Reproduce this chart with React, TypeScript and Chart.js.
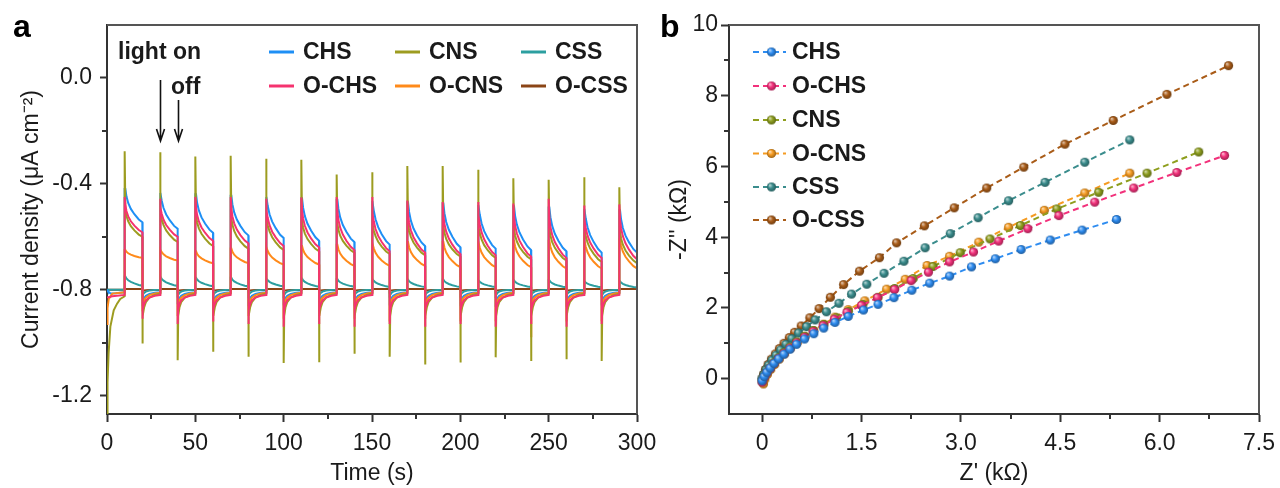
import React, { useEffect, useRef } from "react";
import { Chart, registerables } from "chart.js";

Chart.register(...registerables);

const FONT = '"Liberation Sans", Arial, Helvetica, sans-serif';
const INK = "#1a1a1a";
const AXIS = "#333333";
const FRAME = "#555555";

// ================= Panel a : photocurrent transients =================
const TIME_TICKS = [0, 50, 100, 150, 200, 250, 300];
const TIME_MINOR = [25, 75, 125, 175, 225, 275];
const CURRENT_TICKS = [-1.2, -0.8, -0.4, 0.0];
const CURRENT_MINOR = [-1.0, -0.6, -0.2];
const LIGHT_ON = [10, 30, 50, 70, 90, 110, 130, 150, 170, 190, 210, 230, 250, 270, 290];
const LIGHT_OFF = [20, 40, 60, 80, 100, 120, 140, 160, 180, 200, 220, 240, 260, 280, 300];
// measured decay shape after switching (seconds after switch, remaining fraction)
const ON_DT = [0.4, 1, 2, 3.5, 5.5, 8, 10];
const ON_FRAC = [1, 0.78, 0.58, 0.4, 0.24, 0.08, 0];
const OFF_DT = [0.3, 1, 2, 4, 7, 10];
const OFF_FRAC = [1, 0.62, 0.38, 0.18, 0.06, 0];
const ARROW_ON_T = 30;
const ARROW_OFF_T = 40;

// CHS
const CHS_START = [[0, -0.8], [0.5, -0.806], [2, -0.815], [5, -0.814], [10, -0.81]];
const CHS_TOP = [-0.42, -0.435, -0.44, -0.445, -0.45, -0.455, -0.46, -0.465, -0.47, -0.475, -0.48, -0.485, -0.49, -0.495, -0.5];
const CHS_END = [-0.545, -0.57, -0.585, -0.595, -0.605, -0.615, -0.62, -0.63, -0.635, -0.64, -0.645, -0.65, -0.655, -0.66, -0.66];
const CHS_DIP = [-0.85, -0.855, -0.86, -0.855, -0.86, -0.86, -0.855, -0.86, -0.86, -0.86, -0.865, -0.86, -0.865, -0.86, -0.86];
const CHS_REC = -0.845;
const CHS_BASE = -0.81;
// O-CHS
const OCHS_START = [[0, -0.83], [3, -0.825], [10, -0.82]];
const OCHS_SPIKE = [-0.45, -0.457, -0.45, -0.45, -0.457, -0.452, -0.45, -0.45, -0.463, -0.469, -0.469, -0.475, -0.457, -0.482, -0.478];
const OCHS_TOP = [-0.48, -0.49, -0.49, -0.495, -0.5, -0.5, -0.505, -0.51, -0.515, -0.52, -0.52, -0.525, -0.53, -0.535, -0.535];
const OCHS_END = [-0.583, -0.6, -0.615, -0.625, -0.635, -0.64, -0.65, -0.655, -0.66, -0.665, -0.67, -0.675, -0.68, -0.68, -0.685];
const OCHS_DIP = [-0.91, -0.93, -0.92, -0.93, -0.94, -0.93, -0.94, -0.93, -0.94, -0.93, -0.94, -0.93, -0.94, -0.93, -0.95];
const OCHS_REC = -0.875;
const OCHS_BASE = -0.82;
// CNS
const CNS_START = [[0, -1.27], [0.3, -1.15], [0.9, -1.04], [1.9, -0.94], [3.8, -0.878], [5.7, -0.853], [7.5, -0.835], [10, -0.825]];
const CNS_SPIKE = [-0.277, -0.281, -0.297, -0.294, -0.305, -0.309, -0.365, -0.356, -0.333, -0.333, -0.347, -0.379, -0.385, -0.375, -0.413];
const CNS_TOP = [-0.5, -0.51, -0.52, -0.53, -0.53, -0.54, -0.55, -0.55, -0.55, -0.56, -0.56, -0.57, -0.57, -0.57, -0.58];
const CNS_END = [-0.6, -0.62, -0.635, -0.645, -0.65, -0.655, -0.66, -0.665, -0.67, -0.675, -0.68, -0.685, -0.69, -0.695, -0.7];
const CNS_DIP = [-1.004, -1.067, -1.035, -1.054, -1.077, -1.074, -1.042, -1.054, -1.083, -1.075, -1.056, -1.07, -1.063, -1.07, -1.0];
const CNS_REC = -0.9;
const CNS_BASE = -0.815;
// O-CNS
const OCNS_START = [[0, -0.93], [0.3, -0.87], [1, -0.835], [3, -0.815], [10, -0.81]];
const OCNS_TOP = [-0.65, -0.65, -0.655, -0.645, -0.64, -0.635, -0.63, -0.625, -0.62, -0.62, -0.62, -0.615, -0.615, -0.615, -0.61];
const OCNS_END = [-0.68, -0.69, -0.7, -0.7, -0.705, -0.705, -0.71, -0.71, -0.71, -0.715, -0.715, -0.715, -0.72, -0.72, -0.72];
const OCNS_DIP = [-0.88, -0.9, -0.9, -0.9, -0.91, -0.9, -0.91, -0.92, -0.91, -0.92, -0.92, -0.98, -0.92, -0.92, -0.95];
const OCNS_REC = -0.86;
const OCNS_BASE = -0.812;
// CSS
const CSS_START = [[0, -0.8], [10, -0.8]];
const CSS_TOP = [-0.75, -0.752, -0.755, -0.755, -0.758, -0.758, -0.76, -0.76, -0.762, -0.762, -0.765, -0.765, -0.765, -0.768, -0.768];
const CSS_END = [-0.785, -0.786, -0.787, -0.788, -0.788, -0.789, -0.789, -0.79, -0.79, -0.79, -0.79, -0.79, -0.791, -0.791, -0.792];
const CSS_DIP = [-0.83, -0.83, -0.832, -0.83, -0.832, -0.83, -0.832, -0.83, -0.832, -0.83, -0.832, -0.83, -0.832, -0.83, -0.83];
const CSS_REC = -0.82;
const CSS_BASE = -0.8;
// O-CSS
const OCSS_START = [[0, -0.8], [10, -0.8]];
const OCSS_TOP = [-0.797, -0.797, -0.797, -0.797, -0.797, -0.797, -0.797, -0.797, -0.797, -0.797, -0.797, -0.797, -0.797, -0.797, -0.797];
const OCSS_END = [-0.798, -0.798, -0.798, -0.798, -0.798, -0.798, -0.798, -0.798, -0.798, -0.798, -0.798, -0.798, -0.798, -0.798, -0.798];
const OCSS_DIP = [-0.806, -0.806, -0.806, -0.806, -0.806, -0.806, -0.806, -0.806, -0.806, -0.806, -0.806, -0.806, -0.806, -0.806, -0.806];
const OCSS_REC = -0.804;
const OCSS_BASE = -0.801;

const COLOR_A = {
  CHS: "#1e8ff5",
  OCHS: "#f5336f",
  CNS: "#9d9c20",
  OCNS: "#ff8a1a",
  CSS: "#2c9fa0",
  OCSS: "#8b4516",
};

// ================= Panel b : Nyquist plots =================
const ZRE_TICKS = [0, 1.5, 3.0, 4.5, 6.0, 7.5];
const ZRE_MINOR = [0.75, 2.25, 3.75, 5.25, 6.75];
const ZIM_TICKS = [0, 2, 4, 6, 8, 10];
const ZIM_MINOR = [1, 3, 5, 7, 9];

const CHS_ZRE = [0.0, 0.03, 0.07, 0.12, 0.18, 0.25, 0.33, 0.42, 0.52, 0.64, 0.78, 0.93, 1.1, 1.3, 1.53, 1.75, 1.99, 2.26, 2.53, 2.83, 3.16, 3.52, 3.91, 4.35, 4.83, 5.35];
const CHS_ZIM = [-0.06, 0.06, 0.18, 0.3, 0.43, 0.56, 0.69, 0.83, 0.97, 1.12, 1.27, 1.43, 1.59, 1.76, 1.94, 2.1, 2.29, 2.5, 2.7, 2.9, 3.16, 3.39, 3.65, 3.92, 4.2, 4.5];
const OCHS_ZRE = [0.0, 0.03, 0.07, 0.12, 0.18, 0.25, 0.33, 0.42, 0.52, 0.64, 0.77, 0.92, 1.09, 1.28, 1.5, 1.74, 2.0, 2.25, 2.51, 2.83, 3.19, 3.57, 4.01, 4.48, 5.02, 5.61, 6.26, 6.98];
const OCHS_ZIM = [-0.1, 0.03, 0.16, 0.29, 0.43, 0.57, 0.71, 0.86, 1.01, 1.17, 1.33, 1.5, 1.68, 1.87, 2.07, 2.29, 2.52, 2.77, 3.01, 3.3, 3.58, 3.89, 4.24, 4.61, 4.99, 5.39, 5.83, 6.31];
const CNS_ZRE = [0.0, 0.03, 0.07, 0.12, 0.18, 0.25, 0.33, 0.42, 0.52, 0.64, 0.77, 0.93, 1.12, 1.3, 1.52, 1.75, 2.0, 2.28, 2.58, 2.99, 3.44, 3.9, 4.45, 5.08, 5.81, 6.59];
const CNS_ZIM = [-0.08, 0.05, 0.18, 0.31, 0.45, 0.59, 0.74, 0.89, 1.04, 1.2, 1.36, 1.53, 1.72, 1.9, 2.1, 2.3, 2.55, 2.83, 3.17, 3.56, 3.95, 4.33, 4.8, 5.27, 5.81, 6.41];
const OCNS_ZRE = [0.02, 0.04, 0.08, 0.13, 0.19, 0.26, 0.34, 0.43, 0.53, 0.65, 0.78, 0.93, 1.1, 1.3, 1.55, 1.88, 2.16, 2.49, 2.83, 3.27, 3.72, 4.26, 4.87, 5.55];
const OCNS_ZIM = [-0.15, -0.02, 0.12, 0.26, 0.4, 0.55, 0.7, 0.86, 1.02, 1.19, 1.36, 1.54, 1.74, 1.95, 2.2, 2.53, 2.81, 3.2, 3.46, 3.86, 4.28, 4.76, 5.25, 5.81];
const CSS_ZRE = [0.0, 0.03, 0.06, 0.1, 0.15, 0.21, 0.28, 0.36, 0.45, 0.55, 0.67, 0.8, 0.97, 1.16, 1.35, 1.58, 1.84, 2.14, 2.46, 2.84, 3.26, 3.72, 4.27, 4.87, 5.55];
const CSS_ZIM = [0.0, 0.12, 0.25, 0.38, 0.52, 0.66, 0.81, 0.97, 1.13, 1.29, 1.47, 1.66, 1.89, 2.13, 2.39, 2.67, 2.98, 3.32, 3.7, 4.1, 4.55, 5.03, 5.55, 6.12, 6.75];
const OCSS_ZRE = [0.0, 0.02, 0.05, 0.09, 0.14, 0.2, 0.26, 0.33, 0.41, 0.49, 0.59, 0.72, 0.86, 1.03, 1.23, 1.47, 1.77, 2.03, 2.45, 2.9, 3.39, 3.95, 4.57, 5.3, 6.11, 7.04];
const OCSS_ZIM = [0.0, 0.12, 0.26, 0.4, 0.55, 0.7, 0.85, 1.0, 1.16, 1.31, 1.49, 1.72, 1.98, 2.3, 2.66, 3.04, 3.42, 3.84, 4.32, 4.83, 5.39, 5.98, 6.63, 7.3, 8.04, 8.85];

const COLOR_B = {
  CHS: "#2e8cf0",
  OCHS: "#f2317b",
  CNS: "#8e9e1e",
  OCNS: "#f59b22",
  CSS: "#3b8d8d",
  OCSS: "#a95c18",
};

type Pt = { x: number; y: number };

function transient(start: number[][], spike: number[], top: number[], end: number[], dip: number[], rec: number, base: number): Pt[] {
  const pts: Pt[] = start.map(([x, y]) => ({ x, y }));
  LIGHT_ON.forEach((tOn, k) => {
    const tOff = LIGHT_OFF[k];
    pts.push({ x: tOn, y: spike[k] });
    ON_DT.forEach((dt, i) => pts.push({ x: tOn + dt, y: end[k] + (top[k] - end[k]) * ON_FRAC[i] }));
    pts.push({ x: tOff, y: dip[k] });
    if (k < LIGHT_ON.length - 1) {
      OFF_DT.forEach((dt, i) => pts.push({ x: tOff + dt, y: base + (rec - base) * OFF_FRAC[i] }));
    }
  });
  return pts;
}

function zip(xs: number[], ys: number[]): Pt[] {
  return xs.map((x, i) => ({ x, y: ys[i] }));
}

function hexToRgb(h: string) {
  const n = parseInt(h.slice(1), 16);
  return [(n >> 16) & 255, (n >> 8) & 255, n & 255];
}
function mix(c: string, d: string, t: number) {
  const a = hexToRgb(c);
  const b = hexToRgb(d);
  const r = a.map((v, i) => Math.round(v + (b[i] - v) * t));
  return `rgb(${r[0]},${r[1]},${r[2]})`;
}
function sphere(color: string, r = 4.6): HTMLCanvasElement {
  const c = document.createElement("canvas");
  const s = 11;
  c.width = s;
  c.height = s;
  const g = c.getContext("2d")!;
  const cx = s / 2;
  const cy = s / 2;
  const grad = g.createRadialGradient(cx - r * 0.35, cy - r * 0.4, r * 0.1, cx, cy, r);
  grad.addColorStop(0, mix(color, "#ffffff", 0.6));
  grad.addColorStop(0.45, color);
  grad.addColorStop(1, mix(color, "#000000", 0.35));
  g.fillStyle = grad;
  g.beginPath();
  g.arc(cx, cy, r, 0, Math.PI * 2);
  g.fill();
  return c;
}

function frameAndMinor(chart: any, minorX: number[], minorY: number[]) {
  const { ctx, chartArea: ca, scales } = chart;
  ctx.save();
  ctx.strokeStyle = FRAME;
  ctx.lineWidth = 2;
  ctx.beginPath();
  ctx.moveTo(ca.left, ca.top);
  ctx.lineTo(ca.right, ca.top);
  ctx.lineTo(ca.right, ca.bottom);
  ctx.stroke();
  ctx.strokeStyle = AXIS;
  ctx.lineWidth = 2;
  ctx.beginPath();
  minorX.forEach((v) => {
    const px = Math.round(scales.x.getPixelForValue(v));
    ctx.moveTo(px, ca.bottom);
    ctx.lineTo(px, ca.bottom + 5);
  });
  minorY.forEach((v) => {
    const py = Math.round(scales.y.getPixelForValue(v));
    ctx.moveTo(ca.left, py);
    ctx.lineTo(ca.left - 5, py);
  });
  ctx.stroke();
  ctx.restore();
}

function tickFont() {
  return { size: 23, family: FONT };
}

function configA(): any {
  const sets = [
    { label: "O-CHS", color: COLOR_A.OCHS, data: transient(OCHS_START, OCHS_SPIKE, OCHS_TOP, OCHS_END, OCHS_DIP, OCHS_REC, OCHS_BASE) },
    { label: "CNS", color: COLOR_A.CNS, data: transient(CNS_START, CNS_SPIKE, CNS_TOP, CNS_END, CNS_DIP, CNS_REC, CNS_BASE) },
    { label: "O-CNS", color: COLOR_A.OCNS, data: transient(OCNS_START, OCNS_TOP, OCNS_TOP, OCNS_END, OCNS_DIP, OCNS_REC, OCNS_BASE) },
    { label: "CHS", color: COLOR_A.CHS, data: transient(CHS_START, CHS_TOP, CHS_TOP, CHS_END, CHS_DIP, CHS_REC, CHS_BASE) },
    { label: "CSS", color: COLOR_A.CSS, data: transient(CSS_START, CSS_TOP, CSS_TOP, CSS_END, CSS_DIP, CSS_REC, CSS_BASE) },
    { label: "O-CSS", color: COLOR_A.OCSS, data: transient(OCSS_START, OCSS_TOP, OCSS_TOP, OCSS_END, OCSS_DIP, OCSS_REC, OCSS_BASE) },
  ];
  const legendItems = [
    { label: "CHS", color: COLOR_A.CHS, col: 0, row: 0 },
    { label: "CNS", color: COLOR_A.CNS, col: 1, row: 0 },
    { label: "CSS", color: COLOR_A.CSS, col: 2, row: 0 },
    { label: "O-CHS", color: COLOR_A.OCHS, col: 0, row: 1 },
    { label: "O-CNS", color: COLOR_A.OCNS, col: 1, row: 1 },
    { label: "O-CSS", color: COLOR_A.OCSS, col: 2, row: 1 },
  ];
  const colX = [269, 395, 521];
  const rowY = [52, 86];
  const decor = {
    id: "decorA",
    afterDraw(chart: any) {
      frameAndMinor(chart, TIME_MINOR, CURRENT_MINOR);
      const { ctx, scales } = chart;
      ctx.save();
      // legend
      ctx.font = `bold 23px ${FONT}`;
      ctx.textBaseline = "middle";
      ctx.textAlign = "left";
      legendItems.forEach((it) => {
        const x = colX[it.col];
        const y = rowY[it.row];
        ctx.strokeStyle = it.color;
        ctx.lineWidth = 3;
        ctx.beginPath();
        ctx.moveTo(x, y);
        ctx.lineTo(x + 25, y);
        ctx.stroke();
        ctx.fillStyle = INK;
        ctx.fillText(it.label, x + 34, y + 1);
      });
      // annotations
      ctx.fillText("light on", 118, 53);
      ctx.fillText("off", 171, 88);
      ctx.strokeStyle = "#111";
      ctx.lineWidth = 1.6;
      const arrow = (t: number, y0: number) => {
        const x = Math.round(scales.x.getPixelForValue(t)) + 0.5;
        const y1 = 141;
        ctx.beginPath();
        ctx.moveTo(x, y0);
        ctx.lineTo(x, y1);
        ctx.moveTo(x - 4, y1 - 12);
        ctx.lineTo(x, y1);
        ctx.lineTo(x + 4, y1 - 12);
        ctx.stroke();
      };
      arrow(ARROW_ON_T, 80);
      arrow(ARROW_OFF_T, 100);
      // panel label
      ctx.font = `bold 32px ${FONT}`;
      ctx.textBaseline = "alphabetic";
      ctx.fillStyle = "#000";
      ctx.fillText("a", 13, 37);
      ctx.restore();
    },
  };
  return {
    type: "line",
    data: {
      datasets: sets.map((s) => ({
        label: s.label,
        data: s.data,
        borderColor: s.color,
        backgroundColor: s.color,
        borderWidth: 2,
        pointRadius: 0,
        tension: 0,
        fill: false,
      })),
    },
    options: {
      responsive: false,
      animation: false,
      devicePixelRatio: 1,
      layout: { padding: { left: 0, right: 43, top: 25, bottom: 0 } },
      plugins: { legend: { display: false }, tooltip: { enabled: false } },
      scales: {
        x: {
          type: "linear",
          min: 0,
          max: 300,
          afterBuildTicks: (s: any) => {
            s.ticks = TIME_TICKS.map((v) => ({ value: v }));
          },
          afterFit: (s: any) => {
            s.height = 74;
            s.paddingLeft = 0;
            s.paddingRight = 0;
          },
          ticks: { callback: (v: any) => String(v), font: tickFont(), color: INK, padding: 8, maxRotation: 0, autoSkip: false },
          grid: { drawOnChartArea: false, drawTicks: true, tickLength: 8, tickWidth: 2, tickColor: AXIS, color: AXIS },
          border: { display: true, color: AXIS, width: 2 },
          title: { display: true, text: "Time (s)", font: { size: 23, family: FONT }, color: INK, padding: { top: 0, bottom: 1 } },
        },
        y: {
          type: "linear",
          min: -1.27,
          max: 0.2,
          afterBuildTicks: (s: any) => {
            s.ticks = CURRENT_TICKS.map((v) => ({ value: v }));
          },
          afterFit: (s: any) => {
            s.width = 107;
            s.paddingTop = 0;
            s.paddingBottom = 0;
          },
          ticks: { callback: (v: any) => Number(v).toFixed(1), font: tickFont(), color: INK, padding: 8 },
          grid: { drawOnChartArea: false, drawTicks: true, tickLength: 7, tickWidth: 2, tickColor: AXIS, color: AXIS },
          border: { display: true, color: AXIS, width: 2 },
          title: { display: true, text: "Current density (μA cm⁻²)", font: { size: 23, family: FONT }, color: INK, padding: { top: 18, bottom: 0 } },
        },
      },
    },
    plugins: [decor],
  };
}

function configB(): any {
  const sets = [
    { label: "CHS", color: COLOR_B.CHS, data: zip(CHS_ZRE, CHS_ZIM) },
    { label: "O-CHS", color: COLOR_B.OCHS, data: zip(OCHS_ZRE, OCHS_ZIM) },
    { label: "CNS", color: COLOR_B.CNS, data: zip(CNS_ZRE, CNS_ZIM) },
    { label: "O-CNS", color: COLOR_B.OCNS, data: zip(OCNS_ZRE, OCNS_ZIM) },
    { label: "CSS", color: COLOR_B.CSS, data: zip(CSS_ZRE, CSS_ZIM) },
    { label: "O-CSS", color: COLOR_B.OCSS, data: zip(OCSS_ZRE, OCSS_ZIM) },
  ];
  const sprites = sets.map((s) => sphere(s.color));
  const rowY = [52, 86, 120, 153.5, 187, 220];
  const decor = {
    id: "decorB",
    afterDraw(chart: any) {
      frameAndMinor(chart, ZRE_MINOR, ZIM_MINOR);
      const { ctx } = chart;
      ctx.save();
      ctx.font = `bold 23px ${FONT}`;
      ctx.textBaseline = "middle";
      ctx.textAlign = "left";
      sets.forEach((s, i) => {
        const y = rowY[i];
        ctx.strokeStyle = s.color;
        ctx.lineWidth = 2;
        ctx.setLineDash([6, 4]);
        ctx.beginPath();
        ctx.moveTo(113, y);
        ctx.lineTo(146, y);
        ctx.stroke();
        ctx.setLineDash([]);
        const sp = sprites[i];
        ctx.drawImage(sp, 131.5 - sp.width / 2, y - sp.height / 2);
        ctx.fillStyle = INK;
        ctx.fillText(s.label, 152, y + 1);
      });
      ctx.font = `bold 32px ${FONT}`;
      ctx.textBaseline = "alphabetic";
      ctx.fillStyle = "#000";
      ctx.fillText("b", 20, 37);
      ctx.restore();
    },
  };
  return {
    type: "line",
    data: {
      datasets: sets.map((s, i) => ({
        label: s.label,
        data: s.data,
        borderColor: s.color,
        backgroundColor: s.color,
        borderWidth: 2,
        borderDash: [6, 4],
        pointStyle: sprites[i],
        pointRadius: 4.6,
        tension: 0,
        fill: false,
      })),
    },
    options: {
      responsive: false,
      animation: false,
      devicePixelRatio: 1,
      layout: { padding: { left: 0, right: 21, top: 25, bottom: 0 } },
      plugins: { legend: { display: false }, tooltip: { enabled: false } },
      scales: {
        x: {
          type: "linear",
          min: -0.5,
          max: 7.5,
          afterBuildTicks: (s: any) => {
            s.ticks = ZRE_TICKS.map((v) => ({ value: v }));
          },
          afterFit: (s: any) => {
            s.height = 74;
            s.paddingLeft = 0;
            s.paddingRight = 0;
          },
          ticks: { callback: (v: any) => (Number(v) === 0 ? "0" : Number(v).toFixed(1)), font: tickFont(), color: INK, padding: 8, maxRotation: 0, autoSkip: false },
          grid: { drawOnChartArea: false, drawTicks: true, tickLength: 8, tickWidth: 2, tickColor: AXIS, color: AXIS },
          border: { display: true, color: AXIS, width: 2 },
          title: { display: true, text: "Z' (kΩ)", font: { size: 23, family: FONT }, color: INK, padding: { top: 0, bottom: 1 } },
        },
        y: {
          type: "linear",
          min: -1,
          max: 10,
          afterBuildTicks: (s: any) => {
            s.ticks = ZIM_TICKS.map((v) => ({ value: v }));
          },
          afterFit: (s: any) => {
            s.width = 89;
            s.paddingTop = 0;
            s.paddingBottom = 0;
          },
          ticks: { callback: (v: any) => String(v), font: tickFont(), color: INK, padding: 3 },
          grid: { drawOnChartArea: false, drawTicks: true, tickLength: 8, tickWidth: 2, tickColor: AXIS, color: AXIS },
          border: { display: true, color: AXIS, width: 2 },
          title: { display: true, text: "-Z'' (kΩ)", font: { size: 23, family: FONT }, color: INK, padding: { top: 26, bottom: 0 } },
        },
      },
    },
    plugins: [decor],
  };
}

export default function App() {
  const refA = useRef<HTMLCanvasElement>(null);
  const refB = useRef<HTMLCanvasElement>(null);
  useEffect(() => {
    const prev = document.body.style.margin;
    document.body.style.margin = "0";
    Chart.defaults.font.family = FONT;
    const a = new Chart(refA.current!, configA());
    const b = new Chart(refB.current!, configB());
    return () => {
      a.destroy();
      b.destroy();
      document.body.style.margin = prev;
    };
  }, []);
  return (
    <div style={{ position: "fixed", left: 0, top: 0, width: 1280, height: 488, background: "#fff" }}>
      <canvas ref={refA} width={680} height={488} style={{ position: "absolute", left: 0, top: 0, width: 680, height: 488 }} />
      <canvas ref={refB} width={640} height={488} style={{ position: "absolute", left: 640, top: 0, width: 640, height: 488 }} />
    </div>
  );
}
